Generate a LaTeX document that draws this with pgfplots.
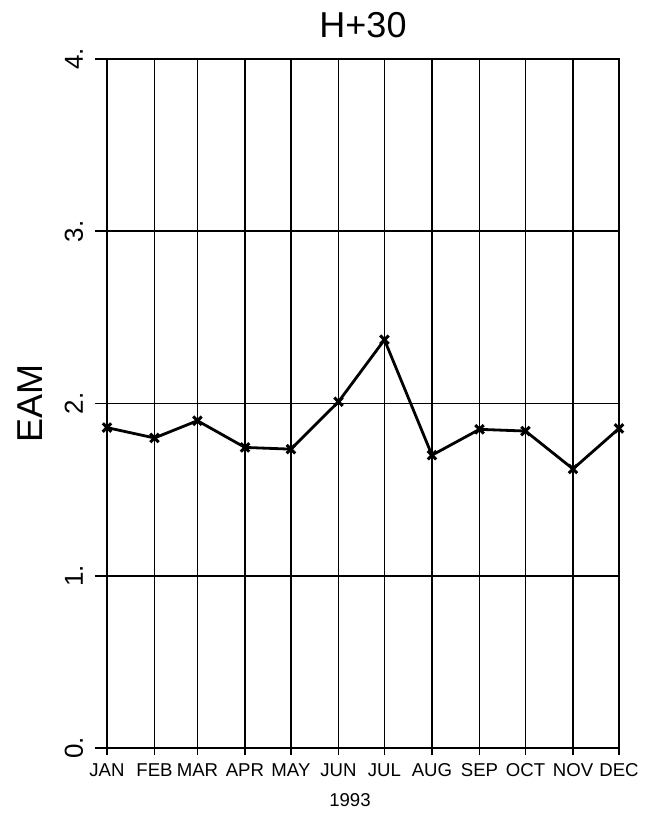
\documentclass[border=0pt]{standalone}
\usepackage{pgfplots}
\pgfplotsset{compat=1.18}
\usepackage{fontspec}
\setmainfont{Liberation Sans}

\begin{document}
\begin{tikzpicture}
% fixed page frame around the 256pt x 344.5pt plot box
\useasboundingbox (-53.5pt,-32.5pt) rectangle (276pt,374pt);
\begin{axis}[
  at={(0,0)}, anchor=south west,
  scale only axis,
  width=256pt, height=344.5pt,
  xmin=0, xmax=334,
  ymin=0, ymax=4,
  xtick={0,31,59,90,120,151,181,212,243,273,304,334},
  xticklabels={JAN,FEB,MAR,APR,MAY,JUN,JUL,AUG,SEP,OCT,NOV,DEC},
  ytick={0,1,2,3,4},
  yticklabels={0.,1.,2.,3.,4.},
  xtick pos=bottom, ytick pos=left,
  tick align=outside,
  major tick length=6pt,
  xtick style={black, line width=0.9pt, /pgfplots/major tick length=3.5pt},
  ytick style={black, line width=0.9pt},
  grid=major,
  major grid style={black, line width=0.9pt},
  axis line style={black, line width=1.2pt},
  /pgf/number format/assume math mode=true,
  xticklabel style={font=\fontsize{9.3}{10}\selectfont, anchor=base, yshift=-8pt},
  yticklabel style={xshift=-6pt, rotate=90, anchor=base, inner sep=0pt},
  yticklabel={\fontsize{13}{14}\selectfont\pgfmathprintnumber[fixed,precision=0]{\tick}.},
  title={H+30},
  title style={font=\fontsize{18}{20}\selectfont, at={(axis description cs:0.5,1)}, anchor=base, yshift=5pt},
  xlabel={1993},
  xlabel style={font=\fontsize{9.3}{10}\selectfont, at={(axis description cs:0.4746,0)}, anchor=base, yshift=-29pt},
  ylabel={EAM},
  ylabel style={font=\fontsize{18}{20}\selectfont, at={(axis description cs:-0.125,0.5)}, anchor=base, rotate=0},
  clip=false,
]
\addplot[black, line width=1.4pt, mark=x, mark size=3pt,
  mark options={line width=1.5pt}] coordinates {
  (0,1.86) (31,1.80) (59,1.90) (90,1.745) (120,1.735) (151,2.01)
  (181,2.37) (212,1.70) (243,1.85) (273,1.84) (304,1.62) (334,1.855)
};
\end{axis}
\end{tikzpicture}
\end{document}
